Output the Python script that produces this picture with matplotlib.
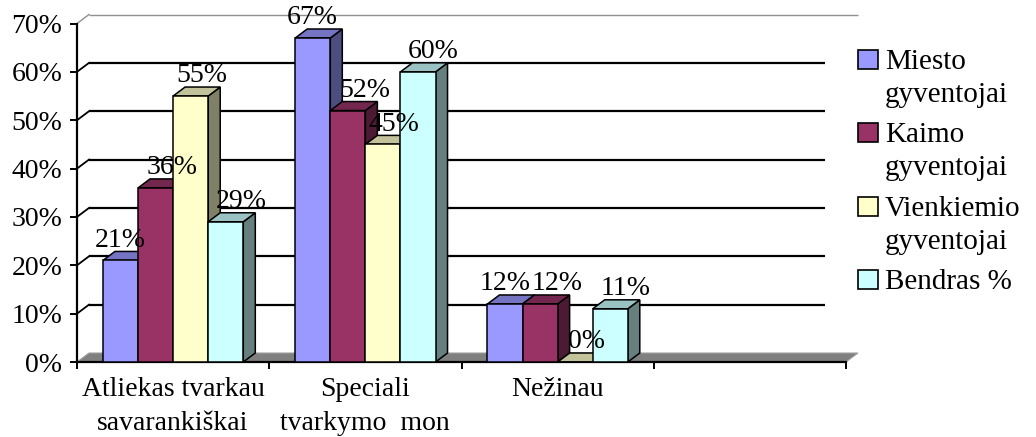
import matplotlib
matplotlib.use("Agg")
import matplotlib.pyplot as plt
from matplotlib.patches import Polygon, Rectangle
import numpy as np

# ---------------- data ----------------
categories = ["Atliekas tvarkau\nsavarankiškai", "Speciali\ntvarkymo  mon", "Nežinau", ""]
series_names = ["Miesto\ngyventojai", "Kaimo\ngyventojai", "Vienkiemio\ngyventojai", "Bendras %"]
miesto = [21, 67, 12]
kaimo = [36, 52, 12]
vienkiemio = [55, 45, 0]
bendras = [29, 60, 11]
yticks = [0, 10, 20, 30, 40, 50, 60, 70]
ytick_labels = ["0%", "10%", "20%", "30%", "40%", "50%", "60%", "70%"]

series_values = [miesto, kaimo, vienkiemio, bendras]
front_colors = ["#9999FF", "#993366", "#FFFFCC", "#CCFFFF"]
label_dx_pt = [0, 12, 8, 11]   # horizontal shift of the value labels per series (points)

plt.rcParams["font.family"] = ["Liberation Serif", "DejaVu Serif"]

W, H = 1036, 437
fig = plt.figure(figsize=(W / 100, H / 100), dpi=100)
fig.patch.set_facecolor("white")
ax = fig.add_axes([77 / W, 75 / H, 769 / W, 338.5 / H])
n = len(categories)
ax.set_xlim(-0.5, n - 0.5)
ax.set_ylim(0, 70)
ax.set_facecolor("none")

# depth offset (pixels -> data units)
DEPTH_PX = (12, 9)
p0 = ax.transData.transform((0, 0))
pd = ax.transData.inverted().transform((p0[0] + DEPTH_PX[0], p0[1] + DEPTH_PX[1]))
DX, DY = pd[0], pd[1]


def shade(c, f):
    c = np.array(matplotlib.colors.to_rgb(c))
    return tuple(c * f)


# floor
x0, x1 = -0.5, n - 0.5
ax.add_patch(Polygon([(x0, 0), (x1, 0), (x1 + DX, DY), (x0 + DX, DY)], closed=True,
                     facecolor="#808080", edgecolor="#a0a0a0", lw=0.8, zorder=1, clip_on=False))

# back wall gridlines and connectors
for v in yticks[1:]:
    if v == yticks[-1]:
        col, lw = "#909090", 1.0
    else:
        col, lw = "black", 1.6
    ax.plot([x0 + DX, x1 + DX], [v + DY, v + DY], color=col, lw=lw, zorder=1.5,
            clip_on=False, solid_capstyle="butt")
    ax.plot([x0, x0 + DX], [v, v + DY], color=col, lw=1.0 if v == yticks[-1] else 1.3,
            zorder=1.5, clip_on=False)

# bars
nser = len(series_values)
group_w = 0.73
bw = group_w / nser
xc = np.arange(len(miesto))
for i, (vals, col) in enumerate(zip(series_values, front_colors)):
    xs = xc + (i - (nser - 1) / 2) * bw
    bars = ax.bar(xs, vals, width=bw, color=col, edgecolor="black", lw=1.1,
                  zorder=3 + i * 0.1 + 0.05)
    for r, v in zip(bars.patches, vals):
        bx0 = r.get_x()
        bx1 = bx0 + r.get_width()
        h = r.get_height()
        top = Polygon([(bx0, h), (bx1, h), (bx1 + DX, h + DY), (bx0 + DX, h + DY)],
                      closed=True, facecolor=shade(col, 0.76), edgecolor="black",
                      lw=1.1, zorder=3 + i * 0.1, clip_on=False)
        side = Polygon([(bx1, 0), (bx1 + DX, DY), (bx1 + DX, h + DY), (bx1, h)],
                       closed=True, facecolor=shade(col, 0.5), edgecolor="black",
                       lw=1.1, zorder=3 + i * 0.1, clip_on=False)
        ax.add_patch(side)
        ax.add_patch(top)
        ax.annotate(f"{v}%", xy=(r.get_x() + r.get_width() / 2, h),
                    xytext=(label_dx_pt[i], 10),
                    textcoords="offset points", ha="center", va="baseline",
                    fontsize=20, zorder=6, annotation_clip=False)

# axes styling
for s in ["top", "right"]:
    ax.spines[s].set_visible(False)
for s in ["left", "bottom"]:
    ax.spines[s].set_color("black")
    ax.spines[s].set_linewidth(1.6)
    ax.spines[s].set_zorder(2)

ax.set_yticks(yticks)
ax.set_yticklabels(ytick_labels)
ax.tick_params(axis="y", direction="out", length=5, width=1.4, pad=5.5, labelsize=20)

ax.set_xticks(np.arange(n))
ax.set_xticklabels(categories, linespacing=1.45)
ax.set_xticks(np.arange(n + 1) - 0.5, minor=True)
ax.tick_params(axis="x", which="major", length=0, pad=11, labelsize=20)
ax.tick_params(axis="x", which="minor", direction="out", length=5, width=1.4)

# legend (white box covering the wall on the right)
fig.add_artist(Rectangle((825 / W, (H - 330) / H), (W - 825) / W, 290 / H,
                         transform=fig.transFigure, facecolor="white", edgecolor="none",
                         zorder=10))
for i, (name, col) in enumerate(zip(series_names, front_colors)):
    top_px = 50 + i * 73.4
    sq = 19
    fig.add_artist(Rectangle((858 / W, (H - top_px - sq) / H), 20 / W, sq / H,
                             transform=fig.transFigure, facecolor=col,
                             edgecolor="black", lw=1.2, zorder=11))
    for j, line in enumerate(name.split("\n")):
        fig.text(885 / W, (H - top_px - sq - j * 33) / H, line, fontsize=21,
                 ha="left", va="baseline", zorder=12)

fig.savefig("out.png", dpi=100, facecolor="white")
